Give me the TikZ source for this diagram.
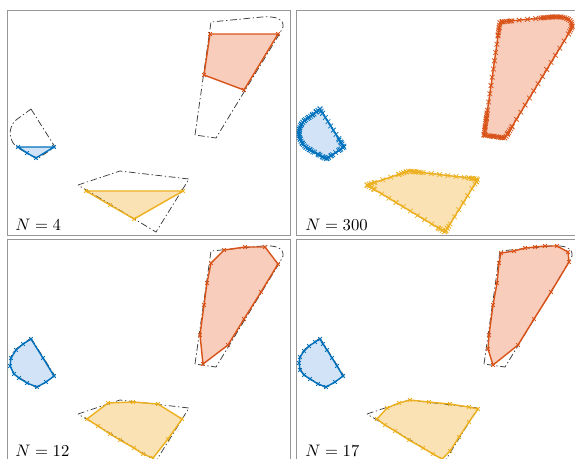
\documentclass[tikz,border=0pt]{standalone}
\usetikzlibrary{decorations.markings}
\definecolor{cblue}{RGB}{0,114,189}
\definecolor{cred}{RGB}{217,83,25}
\definecolor{cyel}{RGB}{237,177,32}
\definecolor{fblue}{RGB}{211,227,247}
\definecolor{fred}{RGB}{249,205,188}
\definecolor{fyel}{RGB}{251,226,180}
\definecolor{truthgray}{RGB}{60,60,60}
\definecolor{framegray}{RGB}{150,150,150}
\newcommand\RedTrue{(195,135) -- (211,22) -- (262,17) .. controls (276,16) and (284,19) .. (283,27) -- (280,33) -- (216,138) -- cycle}
\newcommand\BlueTrue{(31,109) -- (55,147) -- (37,159) -- (18,148) .. controls (9,142) and (7,128) .. (16,120) -- cycle}
\newcommand\YelTrue{(78,185) -- (120,171) -- (189,179) -- (156,232) -- cycle}
\newcommand\AllTruth{\draw[truth] \RedTrue; \draw[truth] \BlueTrue; \draw[truth] \YelTrue;}
\newcommand\XMark[1]{\pgftransformresetnontranslations\draw[#1,line width=0.45pt,solid] (-1.4pt,-1.4pt) -- (1.4pt,1.4pt) (-1.4pt,1.4pt) -- (1.4pt,-1.4pt);}
\tikzset{
  truth/.style={draw=truthgray, line width=0.45pt, dash pattern=on 4pt off 1.6pt on 0.8pt off 1.6pt},
  apx/.style={line width=0.85pt, line join=round, mark=x, mark size=1.5pt, mark options={solid, line width=0.45pt}},
  dense/.style={line width=0.85pt, line join=round},
  xmarks/.style args={#1/#2}{postaction={decorate}, decoration={markings, mark=between positions 0 and 1 step #2 with {\XMark{#1}}}},
  frame/.style={draw=framegray, line width=0.6pt},
  lab/.style={anchor=base west, inner sep=0pt}
}
\begin{document}
\begin{tikzpicture}[x=0.6pt, y=-0.6pt]
\useasboundingbox (0,0) rectangle (575,458);
\clip (0,0) rectangle (575,458);
\fill[white] (0,0) rectangle (575,458);
% ---------- N = 4 ----------
\begin{scope}
  \draw[frame] (7,10) rectangle (290,235);
  \fill[fred] (210,34) -- (278,34) -- (244,90) -- (204,75) -- cycle;
  \fill[fblue] (18,147) -- (27,153) -- (36,158) -- (54,147) -- cycle;
  \fill[fyel] (86,191) -- (110,205) -- (134,219) -- (183,191) -- cycle;
  \AllTruth
  \draw[apx, draw=cred] plot coordinates {(210,34) (278,34) (244,90) (204,75)} -- cycle;
  \draw[apx, draw=cblue] plot coordinates {(18,147) (27,153) (36,158) (54,147)} -- cycle;
  \draw[apx, draw=cyel] plot coordinates {(86,191) (110,205) (134,219) (183,191)} -- cycle;
  \node[lab] (lab4) at (15,230) {$N=4$};
\end{scope}
% ---------- N = 300 ----------
\begin{scope}[shift={(289,0)}]
  \draw[frame] (7,10) rectangle (290,235);
  \AllTruth
  \draw[dense, draw=cred, fill=fred, xmarks=cred/5pt] \RedTrue;
  \draw[dense, draw=cblue, fill=fblue, xmarks=cblue/3pt] \BlueTrue;
  \draw[dense, draw=cyel, fill=fyel, xmarks=cyel/5pt] \YelTrue;
  \path[xmarks=cred/1.2pt] (252,18) -- (262,17) .. controls (276,16) and (284,19) .. (283,27) -- (280,33);
  \path[xmarks=cred/1.5pt] (209,35) -- (211,22) -- (224,20.8);
  \path[xmarks=cred/1.3pt] (198,113) -- (195,135) -- (216,138) -- (223,127);
  \path[xmarks=cblue/1.2pt] (25,114) -- (16,120) .. controls (7,128) and (9,142) .. (18,148) -- (24,152);
  \path[xmarks=cblue/1.5pt] (29,154) -- (37,159) -- (45,154);
  \path[xmarks=cblue/1.5pt] (50,140) -- (55,147) -- (49,151);
  \path[xmarks=cblue/1.5pt] (27,112) -- (31,109) -- (34,114);
  \path[xmarks=cyel/1.5pt] (110,174.3) -- (120,171) -- (132,172.4);
  \path[xmarks=cyel/1.5pt] (85,182.7) -- (78,185) -- (85,189.2);
  \path[xmarks=cyel/1.5pt] (180,178) -- (189,179) -- (185,185.4);
  \path[xmarks=cyel/1.5pt] (149,227.8) -- (156,232) -- (160,225.6);
  \node[lab] (lab300) at (16,230) {$N=300$};
\end{scope}
% ---------- N = 12 ----------
\begin{scope}[shift={(0,229)}]
  \draw[frame] (7,10) rectangle (290,235);
  \fill[fred] (211,34) -- (224,21) -- (245,18) -- (265,18) -- (278,35) -- (261,63) -- (244,90) -- (228,116) -- (203,135) -- (200,106) -- (204,76) -- (207,54) -- cycle;
  \fill[fblue] (31,110) -- (23,115) -- (16,121) -- (11,129) -- (10,137) -- (14,145) -- (19,149) -- (27,154) -- (37,158) -- (46,153) -- (54,147) -- (43,129) -- cycle;
  \fill[fyel] (87,190) -- (108,174) -- (133,173) -- (158,175) -- (182,190) -- (168,210) -- (153,229) -- (143,225) -- (134,219) -- (120,211) -- (110,205) -- (98,197) -- cycle;
  \AllTruth
  \draw[apx, draw=cred] plot coordinates {(211,34) (224,21) (245,18) (265,18) (278,35) (261,63) (244,90) (228,116) (203,135) (200,106) (204,76) (207,54)} -- cycle;
  \draw[apx, draw=cblue] plot coordinates {(31,110) (23,115) (16,121) (11,129) (10,137) (14,145) (19,149) (27,154) (37,158) (46,153) (54,147) (43,129)} -- cycle;
  \draw[apx, draw=cyel] plot coordinates {(87,190) (108,174) (133,173) (158,175) (182,190) (168,210) (153,229) (143,225) (134,219) (120,211) (110,205) (98,197)} -- cycle;
  \node[lab] (lab12) at (15,227) {$N=12$};
\end{scope}
% ---------- N = 17 ----------
\begin{scope}[shift={(289,229)}]
  \draw[frame] (7,10) rectangle (290,235);
  \fill[fred] (210,34) -- (212,24) -- (225,22) -- (236,19) -- (246,18) -- (256,17) -- (268,17) -- (279,23) -- (280,33) -- (262,63) -- (245,90) -- (229,116) -- (204,136) -- (199,120) -- (200,106) -- (204,76) -- (208,54) -- cycle;
  \fill[fblue] (31,110) -- (26,113) -- (20,117) -- (15,122) -- (11,128) -- (10,134) -- (11,141) -- (15,146) -- (21,150) -- (29,155) -- (37,158) -- (46,153) -- (54,147) -- (48,137) -- (43,129) -- (38,121) -- (34,115) -- cycle;
  \fill[fyel] (88,190) -- (98,179) -- (110,174) -- (121,171) -- (140,173) -- (161,175) -- (180,178) -- (189,180) -- (180,193) -- (170,208) -- (161,222) -- (153,230) -- (144,225) -- (134,219) -- (120,211) -- (106,202) -- (96,196) -- cycle;
  \AllTruth
  \draw[apx, draw=cred] plot coordinates {(210,34) (212,24) (225,22) (236,19) (246,18) (256,17) (268,17) (279,23) (280,33) (262,63) (245,90) (229,116) (204,136) (199,120) (200,106) (204,76) (208,54)} -- cycle;
  \draw[apx, draw=cblue] plot coordinates {(31,110) (26,113) (20,117) (15,122) (11,128) (10,134) (11,141) (15,146) (21,150) (29,155) (37,158) (46,153) (54,147) (48,137) (43,129) (38,121) (34,115)} -- cycle;
  \draw[apx, draw=cyel] plot coordinates {(88,190) (98,179) (110,174) (121,171) (140,173) (161,175) (180,178) (189,180) (180,193) (170,208) (161,222) (153,230) (144,225) (134,219) (120,211) (106,202) (96,196)} -- cycle;
  \node[lab] (lab17) at (16,227) {$N=17$};
\end{scope}
\end{tikzpicture}
\end{document}
